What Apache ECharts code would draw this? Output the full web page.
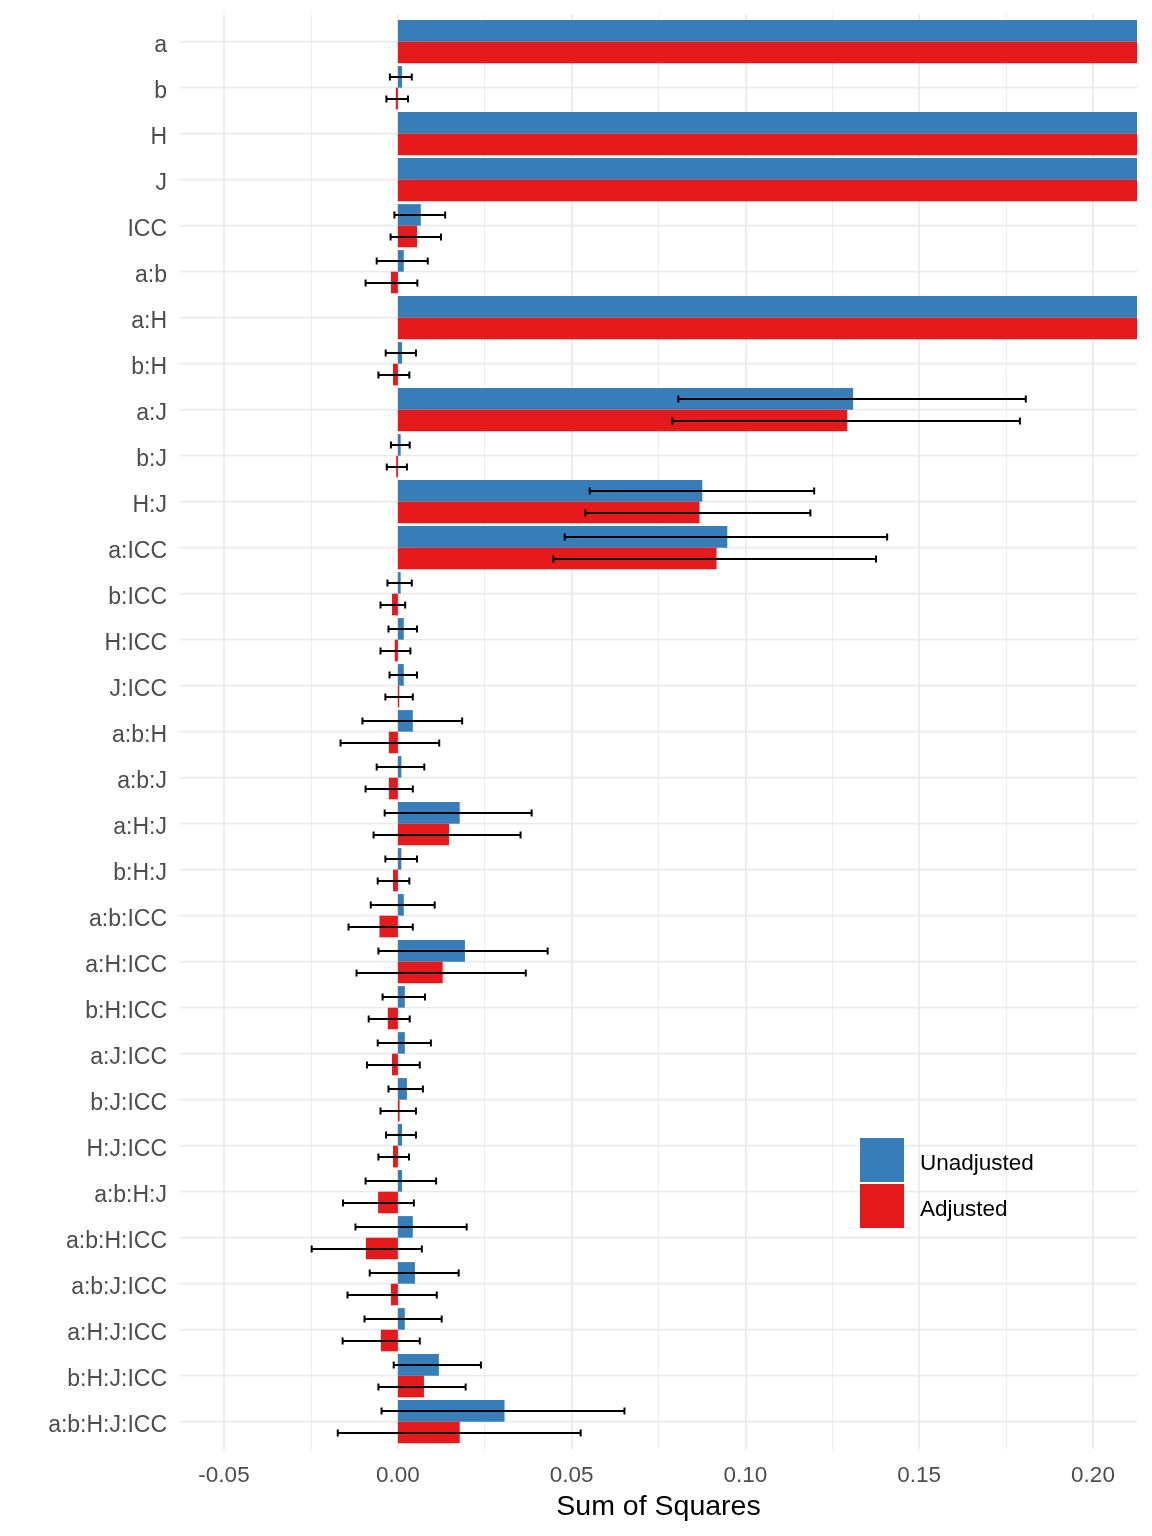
<!DOCTYPE html>
<html>
<head>
<meta charset="utf-8">
<title>Sum of Squares</title>
<script src="https://cdn.jsdelivr.net/npm/echarts@6/dist/echarts.min.js"></script>
<style>
  html, body { margin: 0; padding: 0; background: #fff; }
  #chart { width: 1152px; height: 1536px; }
</style>
</head>
<body>
<div id="chart"></div>
<script>
// terms, top to bottom
var categories = ['a', 'b', 'H', 'J', 'ICC', 'a:b', 'a:H', 'b:H', 'a:J', 'b:J', 'H:J',
  'a:ICC', 'b:ICC', 'H:ICC', 'J:ICC', 'a:b:H', 'a:b:J', 'a:H:J', 'b:H:J', 'a:b:ICC',
  'a:H:ICC', 'b:H:ICC', 'a:J:ICC', 'b:J:ICC', 'H:J:ICC', 'a:b:H:J', 'a:b:H:ICC',
  'a:b:J:ICC', 'a:H:J:ICC', 'b:H:J:ICC', 'a:b:H:J:ICC'];

// a, H, J, a:H run off the right edge: value estimated, bounds unreadable (null)
var unadjusted = [0.40, 0.0012, 0.40, 0.40, 0.0066, 0.0017, 0.40, 0.0012, 0.1310, 0.0008, 0.0876,
  0.0948, 0.0008, 0.0017, 0.0017, 0.0043, 0.0010, 0.0178, 0.0010, 0.0017,
  0.0193, 0.0020, 0.0020, 0.0026, 0.0012, 0.0012, 0.0043,
  0.0049, 0.0020, 0.0118, 0.0307];
var unadjustedLo = [null, -0.0023, null, null, -0.0010, -0.0061, null, -0.0035, 0.0807, -0.0020, 0.0552,
  0.0480, -0.0030, -0.0027, -0.0024, -0.0102, -0.0061, -0.0038, -0.0036, -0.0078,
  -0.0056, -0.0044, -0.0058, -0.0027, -0.0034, -0.0093, -0.0122,
  -0.0081, -0.0096, -0.0012, -0.0047];
var unadjustedHi = [null, 0.0040, null, null, 0.0136, 0.0086, null, 0.0052, 0.1807, 0.0034, 0.1198,
  0.1408, 0.0040, 0.0055, 0.0055, 0.0185, 0.0076, 0.0385, 0.0055, 0.0106,
  0.0431, 0.0078, 0.0095, 0.0072, 0.0052, 0.0110, 0.0198,
  0.0175, 0.0126, 0.0239, 0.0652];

var adjusted = [0.40, -0.0006, 0.40, 0.40, 0.0055, -0.0020, 0.40, -0.0014, 0.1293, -0.0005, 0.0868,
  0.0917, -0.0017, -0.0009, 0.0004, -0.0026, -0.0026, 0.0147, -0.0014, -0.0053,
  0.0129, -0.0029, -0.0017, 0.0005, -0.0014, -0.0057, -0.0092,
  -0.0020, -0.0049, 0.0075, 0.0178];
var adjustedLo = [null, -0.0033, null, null, -0.0021, -0.0093, null, -0.0056, 0.0790, -0.0032, 0.0539,
  0.0447, -0.0050, -0.0050, -0.0036, -0.0165, -0.0093, -0.0070, -0.0058, -0.0142,
  -0.0119, -0.0084, -0.0089, -0.0050, -0.0056, -0.0158, -0.0248,
  -0.0145, -0.0159, -0.0056, -0.0173];
var adjustedHi = [null, 0.0029, null, null, 0.0124, 0.0056, null, 0.0033, 0.1790, 0.0026, 0.1187,
  0.1376, 0.0021, 0.0036, 0.0043, 0.0119, 0.0043, 0.0353, 0.0033, 0.0043,
  0.0368, 0.0034, 0.0063, 0.0052, 0.0032, 0.0046, 0.0069,
  0.0112, 0.0063, 0.0195, 0.0526];

var xTickMin = -0.05, xTickMax = 0.20, xTickStep = 0.05;
var xPanelMin = -0.0627, xPanelMax = 0.2127;

var FONT = "'Liberation Sans', Arial, sans-serif";
var BLUE = '#377EB8', RED = '#E41A1C';
var GAP = 0.06;

function errData(lo, hi) {
	var out = [];
	for (var i = 0; i < lo.length; i++) {
		if (lo[i] == null) continue;
		out.push([lo[i], hi[i], i]);
	}
	return out;
}

function gridLineItem(params, api) {
	var cs = params.coordSys;
	var y = api.coord([0, api.value(1)])[1];
	return { type: 'line', silent: true,
		shape: { x1: cs.x, y1: y, x2: cs.x + cs.width, y2: y },
		style: { stroke: '#EBEBEB', lineWidth: 1.8 } };
}

function errorBar(side) {
	return function (params, api) {
		var idx = api.value(2);
		var p0 = api.coord([api.value(0), idx]);
		var p1 = api.coord([api.value(1), idx]);
		var band = api.size([0, 1])[1];
		var y = Math.round(p0[1] + side * band * (1 - GAP) / 4);
		var cap = 3.5;
		var st = { stroke: '#000', lineWidth: 2 };
		return { type: 'group', children: [
			{ type: 'line', shape: { x1: p0[0], y1: y, x2: p1[0], y2: y }, style: st },
			{ type: 'line', shape: { x1: p0[0], y1: y - cap, x2: p0[0], y2: y + cap }, style: st },
			{ type: 'line', shape: { x1: p1[0], y1: y - cap, x2: p1[0], y2: y + cap }, style: st }
		] };
	};
}

var chart = echarts.init(document.getElementById('chart'));

chart.setOption({
	animation: false,
	backgroundColor: '#fff',
	textStyle: { fontFamily: FONT },
	grid: [
		// data panel, one 46px band per term
		{ left: 180, right: 15, top: 18.7, height: 1426 },
		// background panel for the x axis grid and labels
		{ left: 224, right: 59, top: 14, height: 1435 }
	],
	legend: {
		data: ['Unadjusted', 'Adjusted'],
		orient: 'vertical', left: 860, top: 1138, padding: 0,
		itemWidth: 44, itemHeight: 44, itemGap: 2, icon: 'rect',
		selectedMode: false,
		formatter: '{t|{name}}',
		textStyle: { fontSize: 22.5, color: '#000', fontFamily: FONT,
			rich: { t: { fontSize: 22.5, color: '#000', fontFamily: FONT, padding: [8, 0, 0, 11] } } }
	},
	xAxis: [
		{ type: 'value', gridIndex: 0, min: xPanelMin, max: xPanelMax, show: false, splitLine: { show: false } },
		{ type: 'value', gridIndex: 1, min: xTickMin, max: xTickMax, interval: xTickStep,
			axisLine: { show: false }, axisTick: { show: false },
			axisLabel: { fontSize: 22.5, color: '#4D4D4D', margin: 15, fontFamily: FONT,
				formatter: function (v) { return v.toFixed(2); } },
			splitLine: { show: true, lineStyle: { color: '#EBEBEB', width: 1.8 } },
			minorTick: { show: false, splitNumber: 2 },
			minorSplitLine: { show: true, lineStyle: { color: '#EBEBEB', width: 0.9 } },
			name: 'Sum of Squares', nameLocation: 'middle', nameGap: 44,
			nameTextStyle: { fontSize: 28.5, color: '#000', fontFamily: FONT } }
	],
	yAxis: [
		{ type: 'category', gridIndex: 0, data: categories, inverse: true,
			axisLine: { show: false }, axisTick: { show: false }, splitLine: { show: false },
			axisLabel: { margin: 13, formatter: '{t|{value}}',
				rich: { t: { fontSize: 23, color: '#4D4D4D', fontFamily: FONT, padding: [7, 0, 0, 0] } } } },
		{ type: 'value', gridIndex: 1, show: false, min: 0, max: 1, splitLine: { show: false } }
	],
	series: [
		{ type: 'custom', name: 'grid', xAxisIndex: 0, yAxisIndex: 0, z: 1, silent: true,
			renderItem: gridLineItem, encode: { x: 0, y: 1 },
			data: categories.map(function (c, i) { return [0, i]; }) },
		{ type: 'bar', name: 'Unadjusted', xAxisIndex: 0, yAxisIndex: 0, z: 2,
			data: unadjusted, itemStyle: { color: BLUE },
			barGap: '0%', barCategoryGap: (GAP * 100) + '%', clip: true },
		{ type: 'bar', name: 'Adjusted', xAxisIndex: 0, yAxisIndex: 0, z: 2,
			data: adjusted, itemStyle: { color: RED }, clip: true },
		{ type: 'custom', name: 'errU', xAxisIndex: 0, yAxisIndex: 0, z: 3, silent: true,
			renderItem: errorBar(-1), encode: { x: [0, 1], y: 2 },
			data: errData(unadjustedLo, unadjustedHi) },
		{ type: 'custom', name: 'errA', xAxisIndex: 0, yAxisIndex: 0, z: 3, silent: true,
			renderItem: errorBar(1), encode: { x: [0, 1], y: 2 },
			data: errData(adjustedLo, adjustedHi) }
	]
});
</script>
</body>
</html>
